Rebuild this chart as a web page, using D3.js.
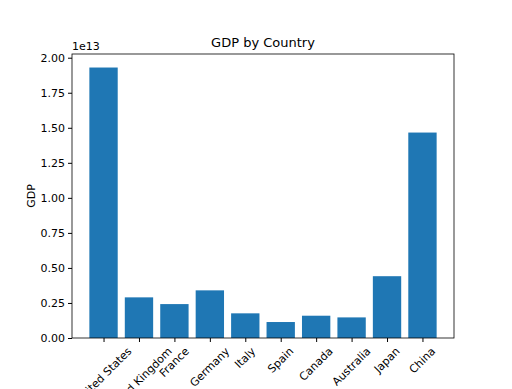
<!DOCTYPE html>
<html>
<head>
<meta charset="utf-8">
<script src="https://cdn.jsdelivr.net/npm/d3@7"></script>
<style>
  body { margin: 0; background: #fff; }
  svg text { font-family: "DejaVu Sans", sans-serif; fill: #000; }
</style>
</head>
<body>
<svg id="chart" width="512" height="389"></svg>
<script>
// values
var countries = ["United States", "United Kingdom", "France", "Germany", "Italy",
  "Spain", "Canada", "Australia", "Japan", "China"];
var gdp = [1.93e13, 2.90e12, 2.42e12, 3.40e12, 1.76e12,
  1.14e12, 1.59e12, 1.47e12, 4.41e12, 1.466e13];
var yTicks = [0, 0.25e13, 0.5e13, 0.75e13, 1e13, 1.25e13, 1.5e13, 1.75e13, 2e13];

var margin = { top: 54, right: 58, bottom: 51, left: 72 };
var svg = d3.select("#chart");
var width = +svg.attr("width") - margin.left - margin.right;
var height = +svg.attr("height") - margin.top - margin.bottom;
var g = svg.append("g").attr("transform", "translate(" + margin.left + "," + margin.top + ")");

// matplotlib style: bars of width 0.8 at integer positions, 5% margins
var n = countries.length;
var pad = (n - 1 + 0.8) * 0.05;
var x = d3.scaleLinear().domain([-0.4 - pad, n - 1 + 0.4 + pad]).range([0, width]);
var y = d3.scaleLinear().domain([0, d3.max(gdp) * 1.05]).range([height, 0]);

var data = countries.map(function (c, i) { return { name: c, value: gdp[i], i: i }; });

g.selectAll(".bar")
  .data(data)
  .enter().append("rect")
  .attr("class", "bar")
  .attr("x", function (d) { return x(d.i - 0.4); })
  .attr("y", function (d) { return y(d.value); })
  .attr("width", x(0.8) - x(0))
  .attr("height", function (d) { return height - y(d.value); })
  .attr("fill", "#1f77b4");

// y axis
var yAxis = g.append("g")
  .call(d3.axisLeft(y).tickValues(yTicks).tickSize(4).tickPadding(3)
    .tickFormat(function (d) { return (d / 1e13).toFixed(2); }));
yAxis.select(".domain").remove();
yAxis.selectAll("text").style("font-size", "11px");

// x axis ticks
var xAxis = g.append("g")
  .attr("transform", "translate(0," + height + ")")
  .call(d3.axisBottom(x).tickValues(d3.range(n)).tickSize(4).tickFormat(""));
xAxis.select(".domain").remove();

// rotated x labels, centred under each tick like matplotlib rotation=45
var fs = 11;
var labels = g.append("g").attr("class", "x-labels");
data.forEach(function (d) {
  var t = labels.append("text")
    .style("font-size", fs + "px")
    .attr("text-anchor", "middle")
    .attr("dominant-baseline", "central")
    .text(d.name);
  var w = t.node().getComputedTextLength();
  var bh = (w + fs) * Math.SQRT1_2;
  var cx = x(d.i);
  var cy = height + 4 + 3.5 + bh / 2;
  t.attr("transform", "translate(" + cx + "," + cy + ") rotate(-45)");
});

// frame
g.append("rect")
  .attr("width", width).attr("height", height)
  .attr("fill", "none").attr("stroke", "#000").attr("stroke-width", 0.8);

// offset text, title, y label
g.append("text").attr("x", 0).attr("y", -4).style("font-size", "11px").text("1e13");

svg.append("text")
  .attr("x", margin.left + width / 2).attr("y", margin.top - 7)
  .attr("text-anchor", "middle").style("font-size", "13px")
  .text("GDP by Country");

svg.append("text")
  .attr("transform", "translate(35," + (margin.top + height / 2) + ") rotate(-90)")
  .attr("text-anchor", "middle").style("font-size", "11px")
  .text("GDP");
</script>
</body>
</html>
